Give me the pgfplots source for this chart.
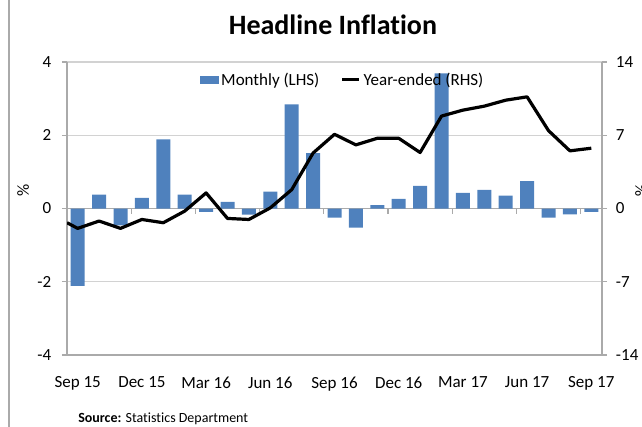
\documentclass[border=0pt]{standalone}
\usepackage{fontspec}
\setmainfont{Carlito}[Ligatures=NoCommon]
\usepackage{pgfplots}
\pgfplotsset{compat=1.18}
\definecolor{barblue}{RGB}{79,129,189}
\definecolor{axgray}{RGB}{170,170,170}
\definecolor{gridgray}{RGB}{210,210,210}
\begin{document}
\begin{tikzpicture}
\useasboundingbox (0pt,0pt) rectangle (481.5pt,320.25pt);
\draw[axgray,line width=1.5pt] (6.75pt,0pt) -- (6.75pt,320.25pt);
\begin{axis}[
  at={(50.25pt,54pt)}, anchor=south west,
  scale only axis, width=401.25pt, height=219.75pt,
  xmin=-0.5, xmax=24.5, ymin=-4, ymax=4,
  axis y line*=left, axis x line*=middle,
  x axis line style={-}, y axis line style={-},
  axis line style={draw=axgray, line width=0.8pt},
  xtick={-0.5,2.5,...,23.5}, xticklabels={},
  ytick={-4,-2,...,4},
  tick align=outside, major tick length=3.75pt,
  tick style={draw=axgray, line width=0.8pt},
  ymajorgrids, grid style={draw=gridgray, line width=0.8pt},
  /pgf/number format/assume math mode=true,
  yticklabel style={font=\fontsize{12.75}{15}\selectfont, xshift=-4.5pt},
  ylabel={\%}, ylabel style={at={(axis description cs:-0.082,0.56)}, anchor=center, font=\fontsize{12.75}{15}\selectfont},
  clip=true,
]
\addplot[ybar, bar width=10.5pt, fill=barblue, draw=none] coordinates {
(0,-2.11) (1,0.38) (2,-0.46) (3,0.29) (4,1.89) (5,0.38) (6,-0.09) (7,0.18) (8,-0.17)
(9,0.46) (10,2.84) (11,1.51) (12,-0.25) (13,-0.52) (14,0.09) (15,0.26) (16,0.62)
(17,3.69) (18,0.43) (19,0.51) (20,0.35) (21,0.75) (22,-0.25) (23,-0.16) (24,-0.09)
};
\end{axis}
\begin{axis}[
  at={(50.25pt,54pt)}, anchor=south west,
  scale only axis, width=401.25pt, height=219.75pt,
  xmin=-0.5, xmax=24.5, ymin=-14, ymax=14,
  axis y line*=right, axis x line*=bottom,
  x axis line style={-}, y axis line style={-},
  axis line style={draw=axgray, line width=0.8pt},
  xtick={0,3,...,24},
  xticklabels={Sep 15,Dec 15,Mar 16,Jun 16,Sep 16,Dec 16,Mar 17,Jun 17,Sep 17},
  ytick={-14,-7,...,14},
  tick align=outside, major tick length=3.75pt,
  tick style={draw=axgray, line width=0.8pt},
  xtick style={draw=none},
  /pgf/number format/assume math mode=true,
  xticklabel style={font=\fontsize{12.75}{15}\selectfont, yshift=-9pt},
  yticklabel style={font=\fontsize{12.75}{15}\selectfont, xshift=3.2pt},
  ylabel={\%}, ylabel style={at={(axis description cs:1.073,0.56)}, anchor=center, rotate=180, font=\fontsize{12.75}{15}\selectfont},
  title={Headline Inflation},
  title style={at={(axis description cs:0.497,1.099)}, anchor=center, font=\fontsize{21}{25}\selectfont\bfseries},
  legend style={at={(axis description cs:0.516,0.939)}, anchor=center, draw=none, fill=none,
    legend columns=2, font=\fontsize{12.75}{15}\selectfont,
    /tikz/every even column/.append style={column sep=14pt}},
  clip=true,
]
\addlegendimage{legend image code/.code={\fill[barblue] (0pt,-2.6pt) rectangle (13.5pt,2.6pt);}}
\addlegendentry{Monthly (LHS)}
\addplot[black, line width=2.4pt, line join=round,
  legend image code/.code={\draw[black,line width=2.4pt] (0pt,0pt) -- (12.75pt,0pt);}] coordinates {
(-0.5,-1.36) (0,-1.9) (1,-1.2) (2,-1.9) (3,-1.05) (4,-1.36) (5,-0.25) (6,1.49) (7,-0.95)
(8,-1.05) (9,0.06) (10,1.8) (11,5.3) (12,7.09) (13,6.08) (14,6.71) (15,6.71) (16,5.35)
(17,8.83) (18,9.40) (19,9.78) (20,10.35) (21,10.67) (22,7.44) (23,5.51) (24,5.76)
};
\addlegendentry{Year-ended (RHS)}
\end{axis}
\node[anchor=base west, inner sep=0pt, font=\fontsize{10.5}{12}\selectfont] at (58.5pt,3.4pt) {\textbf{Source:} Statistics Department};
\end{tikzpicture}
\end{document}
